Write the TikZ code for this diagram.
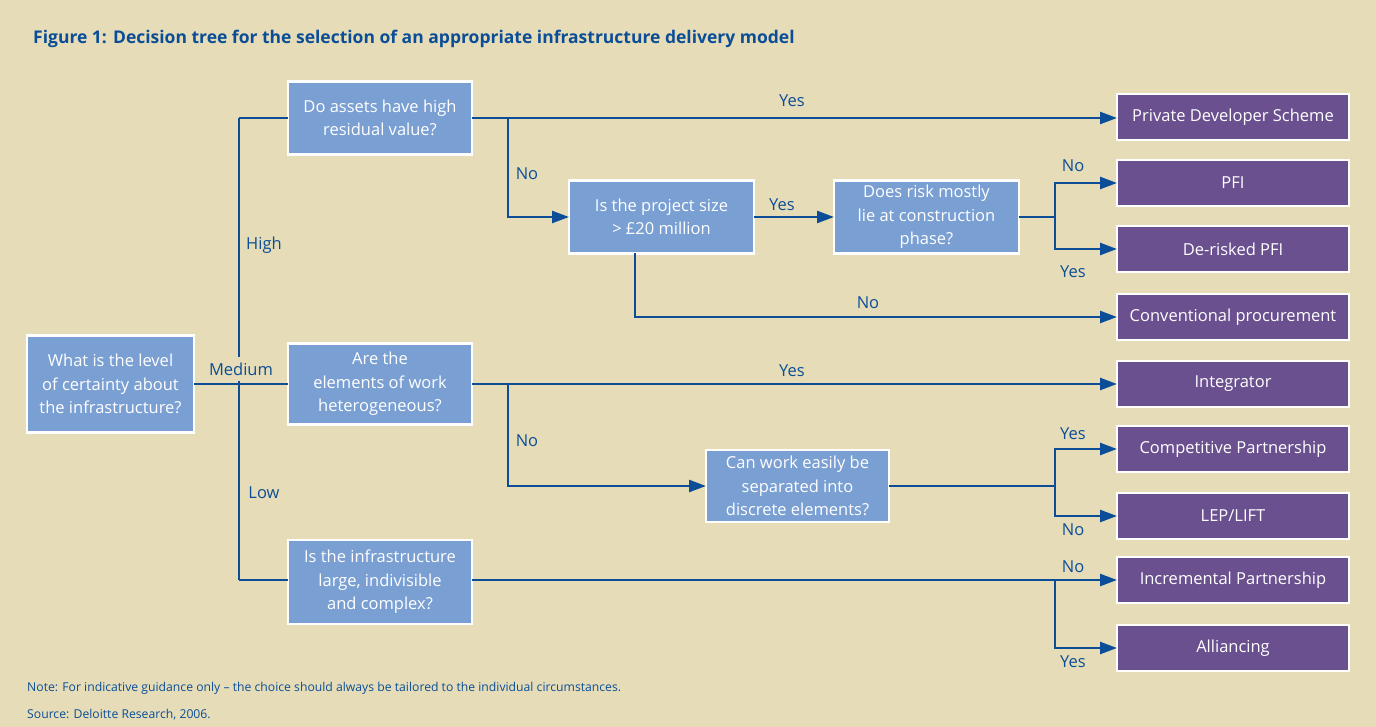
\documentclass[tikz,border=0pt]{standalone}
\usepackage{fontspec}
\setmainfont{Open Sans}
\usetikzlibrary{arrows.meta,calc}
\definecolor{paper}{HTML}{E6DDB8}
\definecolor{qblue}{HTML}{7A9FD3}
\definecolor{opurple}{HTML}{6A508F}
\definecolor{ink}{HTML}{0B4E97}
\begin{document}
\begin{tikzpicture}[x=1pt,y=-1pt,
  qbox/.style={draw=white,line width=2.2pt,fill=qblue,text=white,inner sep=0pt,outer sep=0pt,
    align=center,font=\fontsize{16.5}{23.5}\selectfont},
  obox/.style={draw=white,line width=2.2pt,fill=opurple,text=white,inner sep=0pt,outer sep=0pt,
    minimum width=232,minimum height=46,align=center,font=\fontsize{16.5}{20}\selectfont},
  link/.style={draw=ink,line width=2.4pt},
  arrow/.style={link,-{Triangle[length=17pt,width=12pt]}},
  lbl/.style={text=ink,inner sep=0pt,font=\fontsize{16.5}{20}\selectfont}]
% canvas
\fill[paper] (0,0) rectangle (1376,727);
\useasboundingbox (0,0) rectangle (1376,727);

% title and notes
\node[anchor=west,text=ink,inner sep=0pt,font=\bfseries\fontsize{17.5}{20}\selectfont] (title) at (33,39)
  {Figure 1: Decision tree for the selection of an appropriate infrastructure delivery model};
\node[anchor=west,text=ink,inner sep=0pt,font=\fontsize{12.2}{14}\selectfont] (note) at (27,688)
  {Note: For indicative guidance only -- the choice should always be tailored to the individual circumstances.};
\node[anchor=west,text=ink,inner sep=0pt,font=\fontsize{12.2}{14}\selectfont] (source) at (27,715)
  {Source: Deloitte Research, 2006.};

% question boxes
\node[qbox,minimum width=167,minimum height=97] (q0) at (110.5,384) {What is the level\\of certainty about\\the infrastructure?};
\node[qbox,minimum width=184,minimum height=73] (q1) at (380,118) {Do assets have high\\residual value?};
\node[qbox,minimum width=185,minimum height=73] (q2) at (661.5,217) {Is the project size\\> £20 million};
\node[qbox,minimum width=185,minimum height=73] (q3) at (926.5,217) {Does risk mostly\\lie at construction\\phase?};
\node[qbox,minimum width=184,minimum height=81] (q4) at (380,384) {Are the\\elements of work\\heterogeneous?};
\node[qbox,minimum width=183,minimum height=72] (q5) at (797.5,486) {Can work easily be\\separated into\\discrete elements?};
\node[qbox,minimum width=184,minimum height=84] (q6) at (380,582) {Is the infrastructure\\large, indivisible\\and complex?};

% outcome boxes
\node[obox] (pds)  at (1233,117) {Private Developer Scheme};
\node[obox] (pfi)  at (1233,183) {PFI};
\node[obox] (drp)  at (1233,249) {De-risked PFI};
\node[obox] (conv) at (1233,317) {Conventional procurement};
\node[obox] (intg) at (1233,384) {Integrator};
\node[obox] (comp) at (1233,449) {Competitive Partnership};
\node[obox] (lep)  at (1233,516) {LEP/LIFT};
\node[obox] (inc)  at (1233,580) {Incremental Partnership};
\node[obox] (alli) at (1233,648) {Alliancing};

% junction points
\coordinate (tt) at (239,118);
\coordinate (tm) at (239,384);
\coordinate (tb) at (239,580);
\coordinate (b1) at (508,118);
\coordinate (b2) at (1055,217);
\coordinate (b3) at (635,317);
\coordinate (b4) at (508,384);
\coordinate (b5) at (1055,486);
\coordinate (b6) at (1055,580);

% level of certainty trunk
\draw[link] (tt) -- (tb);
\draw[link] (q0.east |- tm) -- (tm);
\draw[link] (tt) -- (q1.west |- tt);
\draw[link] (tm) -- (q4.west);
\draw[link] (tb) -- (q6.west |- tb);

% high certainty branch
\draw[arrow] (q1.east |- b1) -- (pds.west |- b1);
\draw[arrow] (b1) |- (q2.west);
\draw[arrow] (q2.east) -- (q3.west);
\draw[link] (q3.east) -- (b2);
\draw[arrow] (b2) |- (pfi.west);
\draw[arrow] (b2) |- (drp.west);
\draw[arrow] (q2.south -| b3) |- (conv.west);

% medium certainty branch
\draw[arrow] (q4.east) -- (intg.west);
\draw[arrow] (b4) |- (q5.west);
\draw[link] (q5.east) -- (b5);
\draw[arrow] (b5) |- (comp.west);
\draw[arrow] (b5) |- (lep.west);

% low certainty branch
\draw[link] (q6.east |- b6) -- (b6);
\draw[arrow] (b6) -- (inc.west);
\draw[arrow] (b6) |- (alli.west);

% branch labels
\node[lbl] (lhigh) at (264,245) {High};
\node[lbl,fill=paper,inner xsep=2pt,inner ysep=6pt] (lmed) at (241,369) {Medium};
\node[lbl] (llow)  at (264,493) {Low};
\node[lbl] (y1) at (792,101) {Yes};
\node[lbl] (n1) at (527,174) {No};
\node[lbl] (y2) at (782,205) {Yes};
\node[lbl] (n2) at (1073,166) {No};
\node[lbl] (y3) at (1073,272) {Yes};
\node[lbl] (n3) at (868,303) {No};
\node[lbl] (y4) at (792,371) {Yes};
\node[lbl] (n4) at (527,441) {No};
\node[lbl] (y5) at (1073,434) {Yes};
\node[lbl] (n5) at (1073,530) {No};
\node[lbl] (n6) at (1073,567) {No};
\node[lbl] (y6) at (1073,662) {Yes};
\end{tikzpicture}
\end{document}
